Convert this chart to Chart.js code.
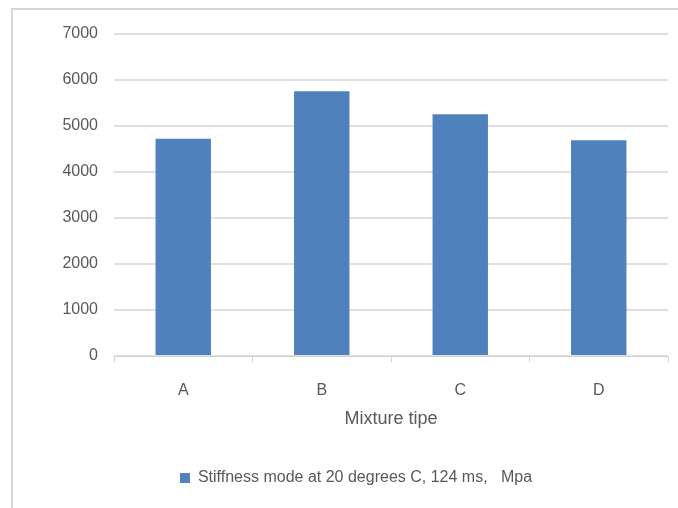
<!DOCTYPE html>
<html>
<head>
<meta charset="utf-8">
<script src="https://cdn.jsdelivr.net/npm/chart.js@4/dist/chart.umd.min.js"></script>
<style>
  html, body { margin: 0; padding: 0; background: #ffffff; overflow: hidden; }
  #wrap { width: 678px; height: 508px; position: relative; }
</style>
</head>
<body>
<div id="wrap"><canvas id="chart" width="678" height="508"></canvas></div>
<script>
// Mixture types and their stiffness modulus (MPa)
const categories = ['A', 'B', 'C', 'D'];
const stiffness = [4725, 5755, 5255, 4690];
const seriesLabel = 'Stiffness mode at 20 degrees C, 124 ms,   Mpa';
const axisTitle = 'Mixture tipe';
const yTicks = [0, 1000, 2000, 3000, 4000, 5000, 6000, 7000];

const FONT = "'Liberation Sans', Arial, sans-serif";
const TEXT = '#595959';
const GRID = '#e0e0e0';
const BAR = '#4f81bd';

// Thin frame along the left and top of the chart object
const framePlugin = {
  id: 'frame',
  beforeDraw(chart) {
    const ctx = chart.ctx;
    ctx.save();
    ctx.strokeStyle = '#d6d6d6';
    ctx.lineWidth = 2;
    ctx.beginPath();
    ctx.moveTo(12, 508);
    ctx.lineTo(12, 9);
    ctx.lineTo(678, 9);
    ctx.stroke();
    ctx.restore();
  }
};

new Chart(document.getElementById('chart'), {
  type: 'bar',
  data: {
    labels: categories,
    datasets: [{
      label: seriesLabel,
      data: stiffness,
      backgroundColor: BAR,
      borderWidth: 0,
      categoryPercentage: 1.0,
      barPercentage: 0.4
    }]
  },
  options: {
    responsive: false,
    animation: false,
    layout: { padding: { left: 44, right: 10, top: 34, bottom: 12 } },
    plugins: {
      legend: {
        position: 'bottom',
        labels: {
          color: TEXT,
          font: { family: FONT, size: 16 },
          boxWidth: 10,
          boxHeight: 10,
          padding: 11
        }
      },
      tooltip: { enabled: false }
    },
    scales: {
      x: {
        offset: true,
        grid: {
          offset: true,
          drawOnChartArea: false,
          drawTicks: true,
          tickLength: 6,
          color: '#d0d0d0'
        },
        border: { display: true, color: '#d0d0d0' },
        ticks: {
          color: TEXT,
          font: { family: FONT, size: 16 },
          padding: 19
        },
        title: {
          display: true,
          text: axisTitle,
          color: TEXT,
          font: { family: FONT, size: 18 },
          padding: { top: 0, bottom: 29 }
        },
        afterFit(scale) { scale.height = 103; }
      },
      y: {
        min: 0,
        max: 7000,
        afterBuildTicks(scale) { scale.ticks = yTicks.map(v => ({ value: v })); },
        grid: { color: GRID, lineWidth: 2, drawTicks: false },
        border: { display: false },
        ticks: {
          color: TEXT,
          font: { family: FONT, size: 16 },
          padding: 16,
          callback: v => String(v)
        },
        afterFit(scale) { scale.width = 70; }
      }
    }
  },
  plugins: [framePlugin]
});
</script>
</body>
</html>
